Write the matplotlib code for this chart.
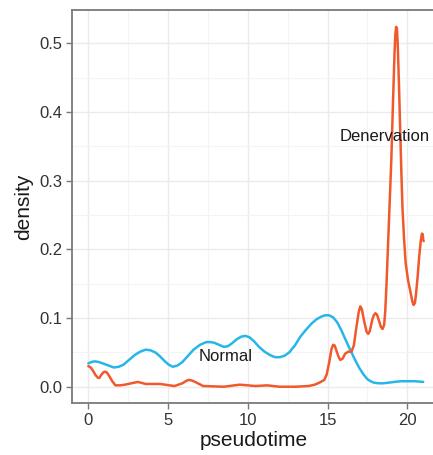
import matplotlib
matplotlib.use("Agg")
import matplotlib.pyplot as plt
from matplotlib.ticker import MultipleLocator

plt.rcParams['font.family'] = ['Liberation Sans', 'DejaVu Sans']

normal_t = [0.0, 0.2, 0.4, 0.65, 0.9, 1.25, 1.6, 1.9, 2.2, 2.55, 2.9, 3.25, 3.6,
            3.9, 4.2, 4.5, 4.8, 5.05, 5.3, 5.6, 5.9, 6.25, 6.6, 7.0, 7.4, 7.65,
            7.9, 8.2, 8.5, 8.75, 9.0, 9.3, 9.6, 9.85, 10.1, 10.4, 10.7, 11.05,
            11.4, 11.7, 12.0, 12.3, 12.6, 12.95, 13.3, 13.65, 14.0, 14.3, 14.6,
            14.85, 15.1, 15.35, 15.6, 15.85, 16.1, 16.3, 16.5, 16.75, 17.0, 17.25,
            17.5, 17.7, 17.9, 18.2, 18.5, 18.85, 19.2, 19.6, 20.0, 20.5, 21.0]
normal_d = [0.034, 0.036, 0.037, 0.036, 0.034, 0.031, 0.028, 0.029, 0.032, 0.039,
            0.046, 0.051, 0.054, 0.053, 0.050, 0.044, 0.037, 0.032, 0.029, 0.031,
            0.036, 0.045, 0.054, 0.061, 0.065, 0.065, 0.064, 0.061, 0.058, 0.059,
            0.063, 0.069, 0.073, 0.074, 0.072, 0.066, 0.058, 0.051, 0.046, 0.043,
            0.043, 0.045, 0.050, 0.060, 0.073, 0.083, 0.092, 0.098, 0.102, 0.104,
            0.104, 0.101, 0.094, 0.083, 0.070, 0.060, 0.050, 0.038, 0.027, 0.018,
            0.011, 0.008, 0.006, 0.005, 0.005, 0.006, 0.007, 0.008, 0.008, 0.008,
            0.007]

denerv_t = [0.0, 0.15, 0.3, 0.45, 0.6, 0.7, 0.8, 0.95, 1.05, 1.15, 1.3, 1.5, 1.7,
            2.0, 2.3, 2.7, 3.1, 3.6, 4.5, 5.4, 5.9, 6.1, 6.3, 6.5, 6.7, 7.2, 8.5,
            9.5, 10.5, 11.2, 12.0, 13.0, 13.8, 14.2, 14.5, 14.8, 14.95, 15.1,
            15.25, 15.35, 15.45, 15.55, 15.7, 15.8, 15.95, 16.1, 16.3, 16.5, 16.65,
            16.8, 16.95, 17.05, 17.15, 17.3, 17.45, 17.55, 17.65, 17.8, 17.9, 18.0,
            18.1, 18.2, 18.35, 18.45, 18.55, 18.62, 18.7, 18.8, 18.9, 19.0, 19.1,
            19.2, 19.25, 19.3, 19.35, 19.4, 19.48, 19.55, 19.62, 19.7, 19.8, 19.9,
            20.05, 20.2, 20.32, 20.4, 20.48, 20.55, 20.65, 20.75, 20.85, 20.92,
            20.97, 21.0, 21.03]
denerv_d = [0.030, 0.028, 0.023, 0.017, 0.013, 0.013, 0.017, 0.021, 0.022, 0.021,
            0.016, 0.008, 0.002, 0.002, 0.003, 0.005, 0.007, 0.004, 0.004, 0.001,
            0.005, 0.008, 0.010, 0.009, 0.007, 0.001, 0.000, 0.003, 0.001, 0.002,
            0.000, 0.000, 0.001, 0.003, 0.006, 0.010, 0.018, 0.035, 0.055, 0.061,
            0.060, 0.053, 0.043, 0.039, 0.041, 0.048, 0.051, 0.051, 0.060, 0.085,
            0.108, 0.117, 0.113, 0.095, 0.080, 0.077, 0.081, 0.097, 0.104, 0.107,
            0.105, 0.098, 0.087, 0.084, 0.090, 0.110, 0.150, 0.210, 0.270, 0.330,
            0.410, 0.485, 0.512, 0.524, 0.522, 0.500, 0.440, 0.380, 0.320, 0.260,
            0.215, 0.180, 0.155, 0.138, 0.124, 0.119, 0.122, 0.135, 0.160, 0.190,
            0.213, 0.223, 0.222, 0.214, 0.212]

labels = ["Normal", "Denervation"]
label_pos = [(8.6, 0.044), (18.6, 0.364)]
colors = ['#27B6E9', '#F0592B']

fig = plt.figure(figsize=(4.33, 4.55), dpi=100)
ax = fig.add_axes([72/433, 52/455, 1.005 - 72/433, 393/455])

ax.plot(normal_t, normal_d, color=colors[0], lw=1.8, solid_joinstyle='round',
        solid_capstyle='round')
ax.plot(denerv_t, denerv_d, color=colors[1], lw=1.8, solid_joinstyle='round',
        solid_capstyle='round')
for lab, (x, y) in zip(labels, label_pos):
    ax.text(x, y, lab, ha='center', va='center', fontsize=12, color='#1a1a1a')

ax.set_xlim(-1.025, 21.75)
ax.set_ylim(-0.0237, 0.5485)
ax.xaxis.set_major_locator(MultipleLocator(5))
ax.xaxis.set_minor_locator(MultipleLocator(2.5))
ax.yaxis.set_major_locator(MultipleLocator(0.1))
ax.yaxis.set_minor_locator(MultipleLocator(0.05))
ax.set_yticks([0.0, 0.1, 0.2, 0.3, 0.4, 0.5])
ax.set_yticklabels(['0.0', '0.1', '0.2', '0.3', '0.4', '0.5'])
ax.grid(True, which='major', color='#EBEBEB', lw=1.0)
ax.grid(True, which='minor', color='#F4F4F4', lw=0.8)
ax.set_axisbelow(True)

for s in ['left', 'bottom', 'top']:
    ax.spines[s].set_color('#7a7a7a')
    ax.spines[s].set_linewidth(1.3)
ax.spines['right'].set_visible(False)
ax.tick_params(which='major', length=4, width=1.0, color='#7a7a7a',
               labelsize=12, labelcolor='#333333', pad=3)
ax.tick_params(which='minor', length=0)

ax.set_xlabel('pseudotime', fontsize=15, color='#1a1a1a', labelpad=2)
ax.set_ylabel('density', fontsize=15, color='#1a1a1a', labelpad=4)

fig.savefig('out.png', dpi=100)
